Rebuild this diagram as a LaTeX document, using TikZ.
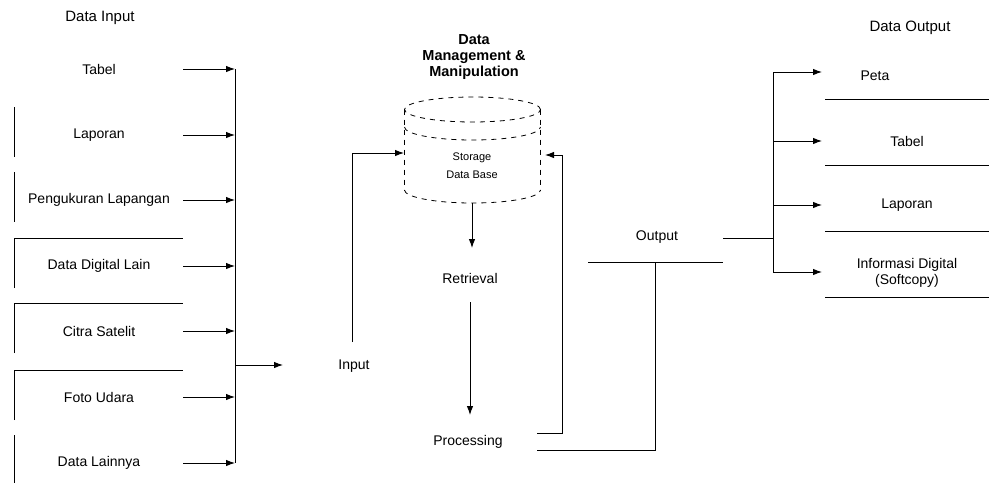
\documentclass[tikz,border=0pt]{standalone}
\usepackage{fontspec}
\setmainfont{Liberation Sans}
\usetikzlibrary{arrows.meta}
\begin{document}
\begin{tikzpicture}[x=1pt,y=-1pt,
  every node/.style={inner sep=0pt, font=\fontsize{14}{16}\selectfont},
  ln/.style={line width=0.9pt},
  arr/.style={ln,-{Latex[length=9pt,width=6.5pt]}},
  cyl/.style={line width=0.8pt, dash pattern=on 5pt off 5pt},
  ttl/.style={font=\fontsize{15}{17}\selectfont},
  bttl/.style={font=\bfseries\fontsize{14.5}{16}\selectfont, align=center},
  small/.style={font=\fontsize{11}{18}\selectfont, align=center},
  frame/.style={line width=0.8pt}]
\useasboundingbox (0,0) rectangle (989,483);

% titles
\node[ttl] (tin) at (100,18) {Data Input};
\node[bttl] (tdm) at (474,57) {Data\\Management \&\\Manipulation};
\node[ttl] (tout) at (910,28) {Data Output};

% left inputs
\foreach \t/\y [count=\i] in {Tabel/69, Laporan/135, Pengukuran Lapangan/200, Data Digital Lain/266, Citra Satelit/331, Foto Udara/397, Data Lainnya/463}{
  \node (L\i) at (99,\y) {\t};
  \coordinate (Ls\i) at (183,\y);
  \coordinate (Lb\i) at (235,\y);
  \draw[arr] (Ls\i) -- (Lb\i);
}
% partial frames on the left
\draw[frame] (14,107) -- (14,157);
\draw[frame] (14,172) -- (14,222);
\draw[frame] (14,288) -- (14,238) -- (183,238);
\draw[frame] (14,353) -- (14,303) -- (183,303);
\draw[frame] (14,420) -- (14,370) -- (183,370);
\draw[frame] (14,435) -- (14,483);

% bus and arrow to Input
\draw[ln] (Lb1) -- (Lb7);
\coordinate (bo) at (235,365);
\coordinate (inA) at (283,365);
\draw[arr] (bo) -- (inA);

% Input
\node (inp) at (354,366) {Input};
\coordinate (i1) at (352,342);
\coordinate (i2) at (352,153);
\coordinate (cylL) at (404,153);
\draw[arr] (i1) -- (i2) -- (cylL);

% cylinder (data store)
\draw[cyl] (472.5,109.5) ellipse [x radius=68pt, y radius=12.5pt];
\draw[cyl] (404.5,127) arc [start angle=180, end angle=360, x radius=68pt, y radius=13pt];
\draw[cyl] (404.5,109.5) -- (404.5,190);
\draw[cyl] (540.5,109.5) -- (540.5,190);
\draw[cyl] (404.5,190) arc [start angle=180, end angle=360, x radius=68pt, y radius=13pt];
\node[small] (db) at (472,166) {Storage\\Data Base};

% retrieval & processing
\coordinate (cb) at (472,203);
\coordinate (r0) at (472,248);
\draw[arr] (cb) -- (r0);
\node (ret) at (470,278) {Retrieval};
\coordinate (r1) at (470,302);
\coordinate (r2) at (470,415);
\draw[arr] (r1) -- (r2);
\node (proc) at (468,442) {Processing};

% processing back to store
\coordinate (p1) at (537,433);
\coordinate (p2) at (562,433);
\coordinate (p3) at (562,155);
\coordinate (cylR) at (545,155);
\draw[arr] (p1) -- (p2) -- (p3) -- (cylR);

% processing to output
\coordinate (q1) at (537,450);
\coordinate (q2) at (655,450);
\coordinate (q3) at (655,262);
\draw[ln] (q1) -- (q2) -- (q3);
\coordinate (o1) at (588,262);
\coordinate (o2) at (723,262);
\draw[ln] (o1) -- (o2);
\node (outp) at (657,237) {Output};
\coordinate (o3) at (723,238);
\coordinate (o4) at (773,238);
\draw[ln] (o3) -- (o4);
\coordinate (vt) at (773,72);
\coordinate (vb) at (773,272);
\draw[ln] (vt) -- (vb);

% outputs
\foreach \y [count=\i] in {72,141,205,272}{
  \coordinate (Ra\i) at (773,\y);
  \coordinate (Rt\i) at (822,\y);
  \draw[arr] (Ra\i) -- (Rt\i);
}
\node (R1) at (875,76) {Peta};
\node (R2) at (907,141) {Tabel};
\node (R3) at (907,205) {Laporan};
\node[align=center, font=\fontsize{14}{16}\selectfont] (R4) at (907,273) {Informasi Digital\\(Softcopy)};
\foreach \y in {99,165,231,297}{
  \draw[frame] (825,\y) -- (989,\y);
}
\end{tikzpicture}
\end{document}
